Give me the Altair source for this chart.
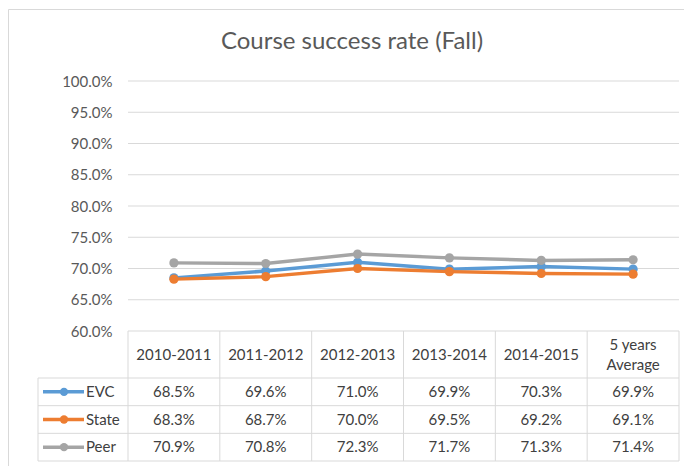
import altair as alt
import pandas as pd

# ---------------- data ----------------
categories = ["2010-2011", "2011-2012", "2012-2013", "2013-2014", "2014-2015", "5 years Average"]
series = ["EVC", "State", "Peer"]
evc = [68.5, 69.6, 71.0, 69.9, 70.3, 69.9]
state = [68.3, 68.7, 70.0, 69.5, 69.2, 69.1]
peer = [70.9, 70.8, 72.3, 71.7, 71.3, 71.4]
y_ticks = [60, 65, 70, 75, 80, 85, 90, 95, 100]
colors = ["#5B9BD5", "#ED7D31", "#A5A5A5"]
chart_title = "Course success rate (Fall)"

series_values = {"EVC": evc, "State": state, "Peer": peer}
df = pd.DataFrame(
    [{"category": c, "series": s, "value": v}
     for s in series for c, v in zip(categories, series_values[s])]
)
cat_df = pd.DataFrame({"category": categories})
tick_df = pd.DataFrame({"tick": y_ticks})
ser_df = pd.DataFrame({"series": series})
one_df = pd.DataFrame({"title": [chart_title]})

# ---------------- layout / style ----------------
W, H = 641, 380          # whole plot+table region
KEY_W = 90               # legend column width
PLOT_H = 250             # height of the line plot part
HEAD_H = 47              # table header row height
FONT = "Lato"
GRID = "#D9D9D9"
TXT = "#404040"
LBL = "#595959"

xscale = alt.Scale(domain=categories, range=[KEY_W, W], paddingInner=0, paddingOuter=0)
yscale = alt.Scale(domain=[60, 100], range=[PLOT_H, 0])
rowscale = alt.Scale(domain=series, range=[PLOT_H + HEAD_H, H], paddingInner=0, paddingOuter=0)
colorscale = alt.Scale(domain=series, range=colors)

X = alt.X("category:N", scale=xscale, axis=None, sort=categories)

border = alt.Chart(one_df).mark_rect(fillOpacity=0, stroke=GRID, strokeWidth=1).encode(
    x=alt.value(-29.5), x2=alt.value(W + 40), y=alt.value(-71.5), y2=alt.value(H + 40)
)

title = alt.Chart(one_df).mark_text(
    font=FONT, fontSize=24, color=LBL, align="center", baseline="alphabetic"
).encode(x=alt.value(314), y=alt.value(-32), text="title:N")

grid = alt.Chart(tick_df).mark_rule(color=GRID, strokeWidth=1).encode(
    y=alt.Y("tick:Q", scale=yscale, axis=alt.Axis(
        values=y_ticks, labelExpr="format(datum.value, '.1f') + '%'",
        domain=False, ticks=False, tickSize=0, grid=False, labelPadding=0,
        labelFont=FONT, labelFontSize=15, labelColor=LBL, offset=-(KEY_W - 16), title=None)),
    x=alt.value(KEY_W), x2=alt.value(W),
)

layers = [border, title, grid]

# table borders
layers.append(alt.Chart(cat_df).mark_rule(color=GRID).encode(
    x=alt.X("category:N", scale=xscale, axis=None, bandPosition=0),
    y=alt.value(PLOT_H), y2=alt.value(H)))
layers.append(alt.Chart(one_df).mark_rule(color=GRID).encode(
    x=alt.value(W), y=alt.value(PLOT_H), y2=alt.value(H)))
layers.append(alt.Chart(one_df).mark_rule(color=GRID).encode(
    x=alt.value(0), y=alt.value(PLOT_H + HEAD_H), y2=alt.value(H)))
layers.append(alt.Chart(ser_df).mark_rule(color=GRID).encode(
    y=alt.Y("series:N", scale=rowscale, axis=None, bandPosition=0),
    x=alt.value(0), x2=alt.value(W)))
layers.append(alt.Chart(one_df).mark_rule(color=GRID).encode(
    y=alt.value(H), x=alt.value(0), x2=alt.value(W)))

# lines and markers
for s, c in zip(series, colors):
    base = alt.Chart(df).transform_filter(alt.datum.series == s)
    layers.append(base.mark_line(color=c, strokeWidth=3.5).encode(
        x=X, y=alt.Y("value:Q", scale=yscale, axis=None)))
    layers.append(base.mark_circle(color=c, size=85, opacity=1).encode(
        x=X, y=alt.Y("value:Q", scale=yscale, axis=None)))

# header row
head = alt.Chart(cat_df).transform_calculate(
    label="replace(datum.category, ' Average', '\\nAverage')",
    nlines="indexof(datum.category, ' Average') >= 0 ? 2 : 1",
)
layers.append(head.transform_filter("datum.nlines == 1").mark_text(
    font=FONT, fontSize=15, color=TXT, baseline="middle").encode(
    x=X, y=alt.value(PLOT_H + HEAD_H / 2), text="label:N"))
layers.append(head.transform_filter("datum.nlines == 2").mark_text(
    font=FONT, fontSize=15, color=TXT, lineBreak="\n", lineHeight=20, baseline="middle", dy=-10).encode(
    x=X, y=alt.value(PLOT_H + HEAD_H / 2), text="label:N"))

# cells
layers.append(alt.Chart(df).transform_calculate(
    label="format(datum.value, '.1f') + '%'"
).mark_text(font=FONT, fontSize=15, color=TXT, baseline="middle").encode(
    x=X, y=alt.Y("series:N", scale=rowscale, axis=None), text="label:N"))

# legend keys
Yrow = alt.Y("series:N", scale=rowscale, axis=None)
C = alt.Color("series:N", scale=colorscale, legend=None)
layers.append(alt.Chart(ser_df).mark_rule(strokeWidth=3.5).encode(
    x=alt.value(5), x2=alt.value(46), y=Yrow, color=C))
layers.append(alt.Chart(ser_df).mark_circle(size=70, opacity=1).encode(
    x=alt.value(26), y=Yrow, color=C))
layers.append(alt.Chart(ser_df).mark_text(font=FONT, fontSize=15, color=TXT, align="left", baseline="middle").encode(
    x=alt.value(48), y=Yrow, text="series:N"))

chart = alt.layer(*layers).resolve_scale(y="independent").properties(
    width=W, height=H,
    padding={"left": 30, "top": 73, "right": 5, "bottom": 5},
    autosize=alt.AutoSizeParams(type="none"),
    background="white",
).configure_view(stroke=None)

chart.save("out.html", embed_options={"renderer": "svg", "actions": False})
